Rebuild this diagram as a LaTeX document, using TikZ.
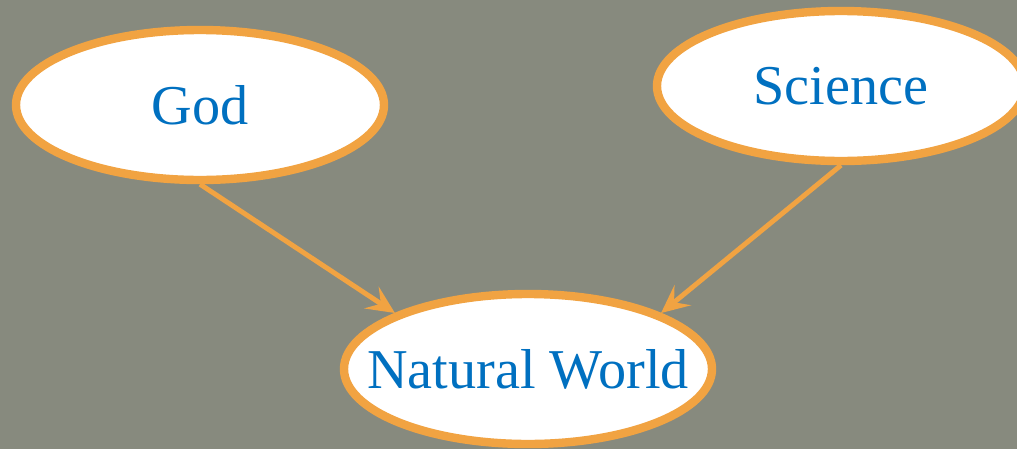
\documentclass[tikz,border=0pt]{standalone}
\usepackage{fontspec}
\setmainfont{Liberation Serif}
\usepackage{xcolor}
\usetikzlibrary{positioning, arrows.meta, shapes.geometric}
\definecolor{slate}{RGB}{135,138,126}
\definecolor{rim}{RGB}{241,163,66}
\definecolor{ink}{RGB}{0,112,192}

\begin{document}
\begin{tikzpicture}[
    thick,
    idea/.style={ellipse, draw=rim, fill=white, line width=0.21cm, minimum width=9.2cm, minimum height=3.75cm},
    word/.style={text=ink, font=\fontsize{40}{48}\selectfont},
    link/.style={-{Stealth[length=7mm, width=6.5mm, inset=2.8mm]}, draw=rim, line width=3.5pt}
]
    % Canvas
    \useasboundingbox (0,0) rectangle (25.425,-11.225);
    \fill[slate] (0,0) rectangle (25.425,-11.225);
    % Ideas
    \node[idea, label={[word]center:God}] (god) at (5.0,-2.625) {};
    \node[idea, label={[word]center:Science}] (science) at (21.025,-2.15) {};
    \node[idea, label={[word]center:Natural World}] (world) at (13.2,-9.225) {};
    % Arrows into the natural world
    \draw[link] (god.south) -- (world.north west);
    \draw[link] (science.south) -- (world.north east);
\end{tikzpicture}
\end{document}
